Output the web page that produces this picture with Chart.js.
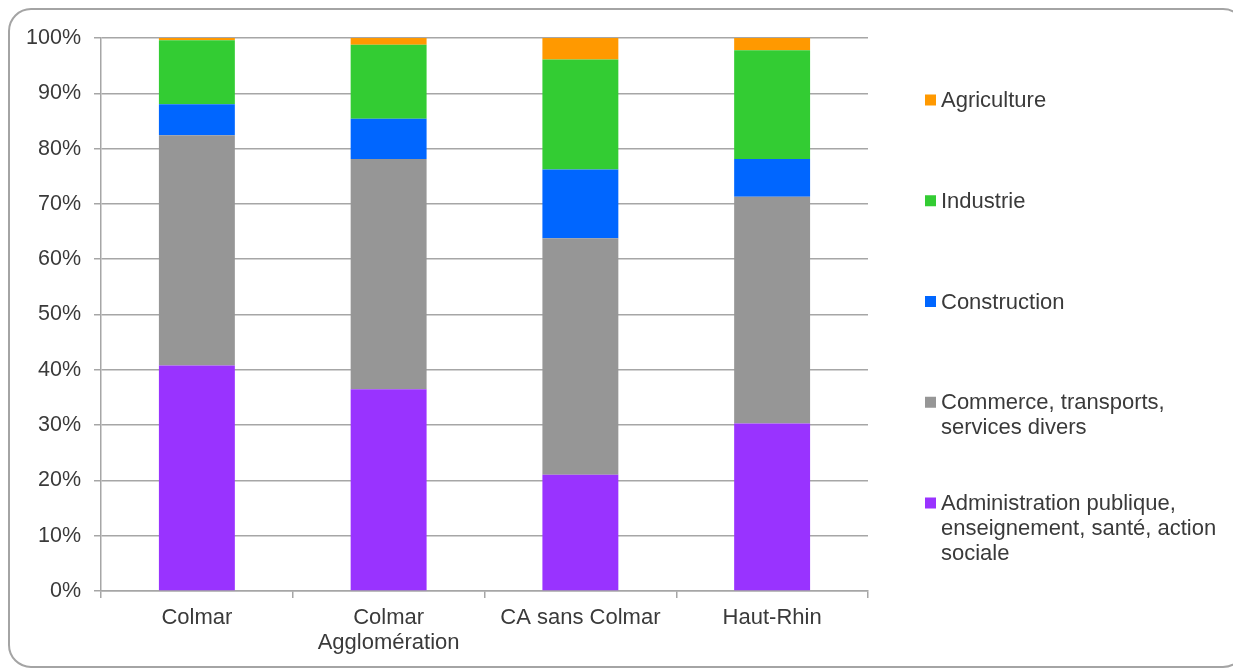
<!DOCTYPE html>
<html>
<head>
<meta charset="utf-8">
<script src="https://cdn.jsdelivr.net/npm/chart.js@4/dist/chart.umd.min.js"></script>
<style>
  html, body { margin: 0; padding: 0; background: #fff; }
  #wrap { position: relative; width: 1233px; height: 670px; }
</style>
</head>
<body>
<div id="wrap"><canvas id="c" width="1233" height="670"></canvas></div>
<script>
// Répartition des emplois par secteur d'activité (%)
const categories = [['Colmar'], ['Colmar', 'Agglomération'], ['CA sans Colmar'], ['Haut-Rhin']];
const administration = [40.8, 36.5, 21.0, 30.3];
const commerce       = [41.6, 41.6, 42.8, 41.0];
const construction   = [5.6, 7.3, 12.4, 6.8];
const industrie      = [11.6, 13.4, 19.9, 19.7];
const agriculture    = [0.4, 1.2, 3.9, 2.2];
const yTicks = [0, 10, 20, 30, 40, 50, 60, 70, 80, 90, 100];

// Legend text, top to bottom, with its line breaks
const legendLines = {
  'Agriculture': ['Agriculture'],
  'Industrie': ['Industrie'],
  'Construction': ['Construction'],
  'Commerce, transports, services divers': ['Commerce, transports,', 'services divers'],
  'Administration publique, enseignement, santé, action sociale': ['Administration publique,', 'enseignement, santé, action', 'sociale']
};

const FONT = "'Liberation Sans', Arial, sans-serif";
const TEXT = '#3a3a3a';
const GRID = '#a6a6a6';

Chart.defaults.font.family = FONT;

// Rounded frame around the whole figure
const framePlugin = {
  id: 'frame',
  beforeDraw(chart) {
    const ctx = chart.ctx;
    ctx.save();
    ctx.fillStyle = '#fff';
    ctx.fillRect(0, 0, chart.width, chart.height);
    ctx.strokeStyle = '#a4a4a4';
    ctx.lineWidth = 2;
    ctx.beginPath();
    ctx.roundRect(9, 9, 1236, 658, 22);
    ctx.stroke();
    ctx.restore();
  }
};

// Legend on the right: last dataset first, one item every ~100 px
const sideLegend = {
  id: 'sideLegend',
  afterDraw(chart) {
    const ctx = chart.ctx;
    const ds = chart.data.datasets.slice().reverse();
    ctx.save();
    ctx.font = '22px ' + FONT;
    ctx.textBaseline = 'alphabetic';
    ctx.textAlign = 'left';
    ds.forEach((d, i) => {
      const cy = 100 + i * 100.75;
      ctx.fillStyle = d.backgroundColor;
      ctx.fillRect(925, cy - 5.5, 11, 11);
      ctx.fillStyle = TEXT;
      const lines = legendLines[d.label] || [d.label];
      lines.forEach((ln, j) => ctx.fillText(ln, 941, cy + 7 + j * 25));
    });
    ctx.restore();
  }
};

new Chart(document.getElementById('c'), {
  type: 'bar',
  data: {
    labels: categories,
    datasets: [
      { label: 'Administration publique, enseignement, santé, action sociale', data: administration, backgroundColor: '#9933ff' },
      { label: 'Commerce, transports, services divers', data: commerce, backgroundColor: '#969696' },
      { label: 'Construction', data: construction, backgroundColor: '#0066ff' },
      { label: 'Industrie', data: industrie, backgroundColor: '#33cc33' },
      { label: 'Agriculture', data: agriculture, backgroundColor: '#ff9900' }
    ].map(d => Object.assign(d, { borderWidth: 0, categoryPercentage: 1, barPercentage: 0.396 }))
  },
  options: {
    responsive: false,
    animation: false,
    layout: { padding: { left: 0, top: 38, right: 365, bottom: 0 } },
    plugins: { legend: { display: false }, tooltip: { enabled: false } },
    scales: {
      x: {
        stacked: true,
        offset: true,
        grid: { offset: true, drawOnChartArea: false, drawTicks: true, tickLength: 7, color: GRID, lineWidth: 1.5 },
        border: { color: GRID, width: 1.5 },
        ticks: { font: { size: 22, lineHeight: 1.14 }, color: TEXT, padding: 7, maxRotation: 0, autoSkip: false },
        afterFit(s) { s.height = 79; }
      },
      y: {
        stacked: true,
        min: 0,
        max: 100,
        afterBuildTicks(s) { s.ticks = yTicks.map(v => ({ value: v })); },
        ticks: { callback: v => v + '%', font: { size: 21.5 }, color: TEXT, padding: 13 },
        grid: { color: GRID, lineWidth: 1.5, tickLength: 7 },
        border: { color: GRID, width: 1.5 },
        afterFit(s) { s.width = 101; }
      }
    }
  },
  plugins: [framePlugin, sideLegend]
});
</script>
</body>
</html>
